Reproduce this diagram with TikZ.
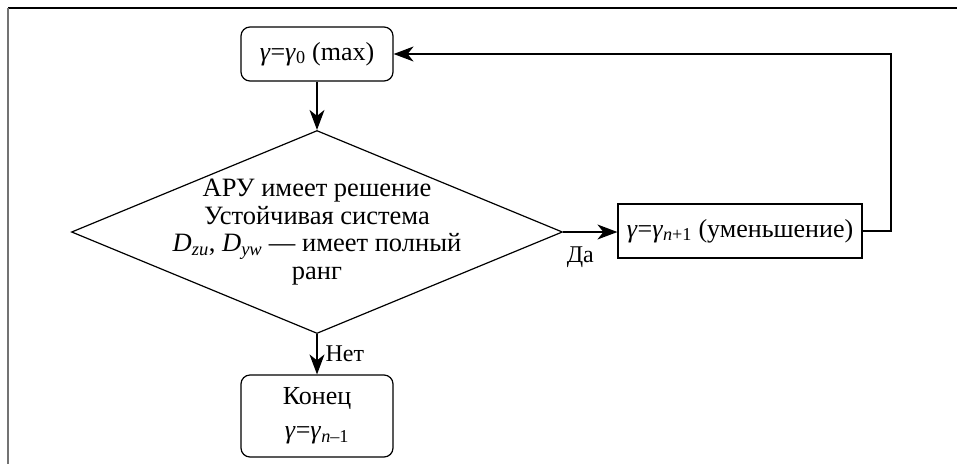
\documentclass[tikz,border=0pt]{standalone}
\usepackage{fontspec}
\setmainfont{Liberation Serif}
\usetikzlibrary{arrows.meta,shapes.geometric}
\newcommand{\gm}{\textit{γ}}
\tikzset{
  terminal/.style={draw,rounded corners=9pt,line width=1.2pt,
    minimum width=152pt,minimum height=54pt,align=center,
    font=\fontsize{26}{30}\selectfont},
  decision/.style={diamond,draw,line width=1.2pt,inner sep=0pt,
    minimum width=491pt,minimum height=203pt},
  condtext/.style={align=center,font=\fontsize{26.5}{27.7}\selectfont},
  process/.style={draw,line width=1.2pt,minimum width=244pt,
    minimum height=54pt,inner sep=1pt,font=\fontsize{26}{30}\selectfont},
  answer/.style={font=\fontsize{24}{28}\selectfont,inner sep=2pt},
  arrow/.style={-{Stealth[length=20pt,width=15pt,inset=6pt]},line width=1.2pt}
}
\begin{document}
\begin{tikzpicture}[x=1pt,y=-1pt]
  \useasboundingbox (0,0) rectangle (957,464);
  % frame
  \draw[line width=1.3pt] (8,8) -- (957,8);
  \draw[line width=2pt,black!55] (8,8) -- (8,464);
  % blocks
  \node[terminal] (start) at (317,54) {\gm=\gm\textsubscript{0} (max)};
  \node[decision] (cond) at (317,232) {};
  \node[condtext] (condlbl) at (cond.center) {АРУ имеет решение\\
    Устойчивая система\\
    \textit{D}\textsubscript{\textit{zu}}, \textit{D}\textsubscript{\textit{yw}} — имеет полный\\
    ранг};
  \node[process] (dec) at (740,231) {\gm=\gm\textsubscript{\textit{n}+1} (уменьшение)};
  \node[terminal,minimum height=82pt] (stop) at (317,416) {Конец\\[4pt]
    \gm=\gm\textsubscript{\textit{n}–1}};
  \coordinate (back) at (891,54);
  % connectors
  \draw[arrow] (start) -- (cond);
  \draw[arrow] (cond.east) -- node[answer,pos=0.02,below right,yshift=-12pt]{Да} (dec.west |- cond.east);
  \draw[arrow] (cond.south) -- node[answer,right,xshift=6pt]{Нет} (stop);
  \draw[arrow] (dec.east) -| (back) -- (start.east);
\end{tikzpicture}
\end{document}
